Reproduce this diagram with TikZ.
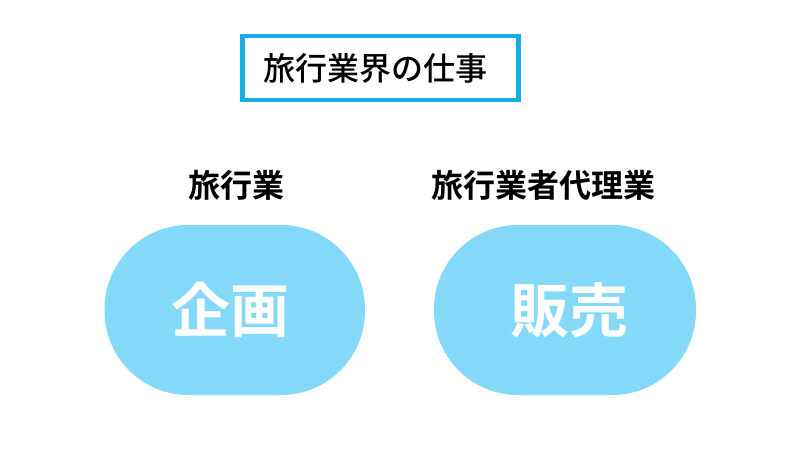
\documentclass[tikz,border=0pt]{standalone}
\usepackage{fontspec}
\newfontfamily\cjkm{Noto Sans CJK JP Medium}
\newfontfamily\cjkb{Noto Sans CJK JP Bold}
\definecolor{pillc}{RGB}{132,216,248}
\definecolor{framec}{RGB}{22,172,232}
\begin{document}
\begin{tikzpicture}[x=1pt,y=-1pt,
  pill/.style={fill=pillc,draw=none,rounded corners=84pt},
  pilltext/.style={text=white,font=\cjkb\fontsize{59}{60}\selectfont,inner sep=0pt},
  label/.style={text=black,font=\cjkb\fontsize{32}{34}\selectfont,inner sep=0pt},
  titlebox/.style={draw=framec,line width=4.5pt,fill=white}]
\useasboundingbox (0,0) rectangle (800,450);
\fill[white] (0,0) rectangle (800,450);
\draw[titlebox] (242.5,35.8) rectangle (518.5,100.2);
\node[text=black,font=\cjkm\fontsize{32}{34}\selectfont,inner sep=0pt] (title) at (375.5,68.5) {旅行業界の仕事};
\node[label] (l1) at (236.5,185) {旅行業};
\node[label] (l2) at (543.5,185) {旅行業者代理業};
\fill[pill] (104.5,225) rectangle (365,395);
\fill[pill] (434,225) rectangle (696,395);
\node[pilltext] (p1) at (230,310) {企画};
\node[pilltext] (p2) at (569,310) {販売};
\end{tikzpicture}
\end{document}
